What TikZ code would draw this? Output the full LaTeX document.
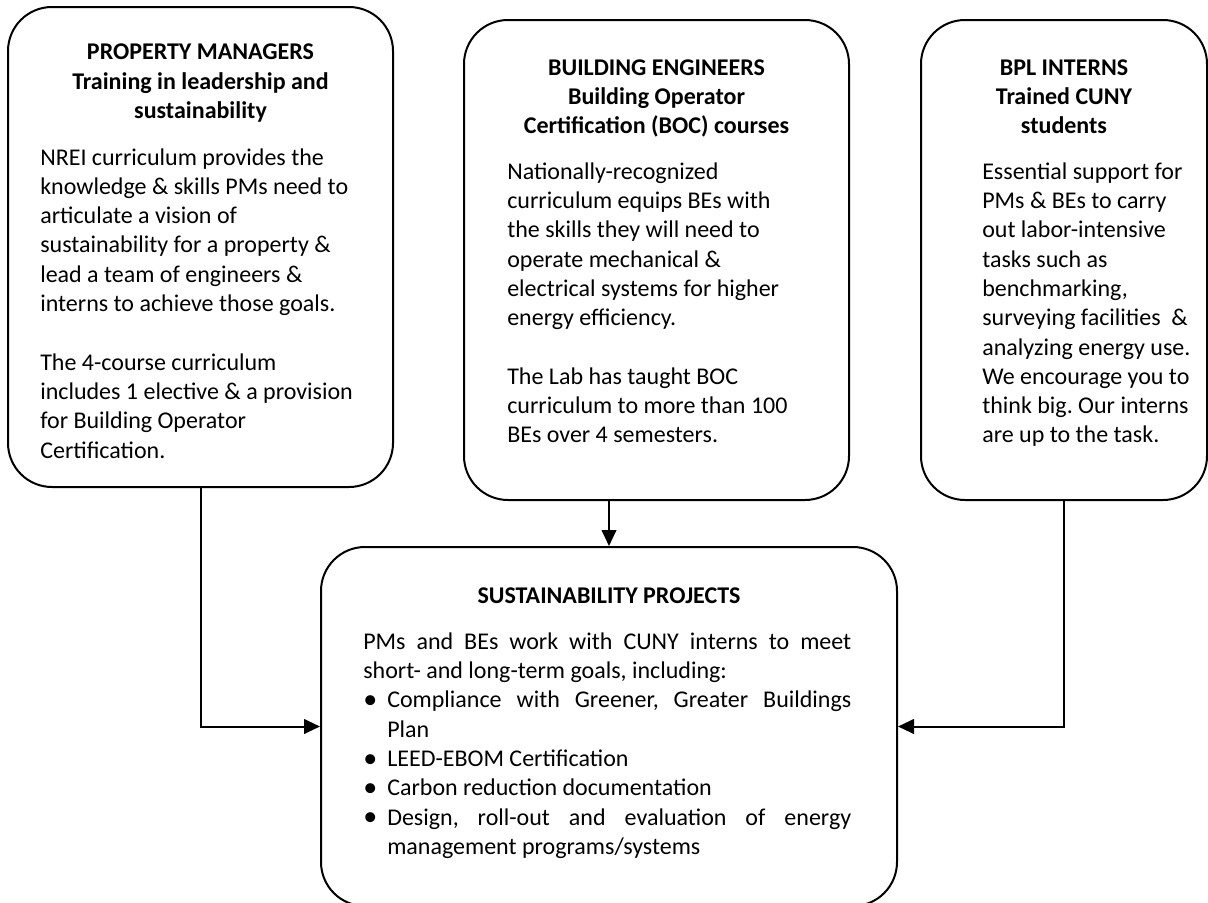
\documentclass[tikz,border=0pt]{standalone}
\usepackage{fontspec}
\setmainfont{Carlito}
\usetikzlibrary{positioning,calc,arrows.meta}
\frenchspacing

% text size used in every box
\newcommand\panelfont{\fontsize{18}{22}\selectfont}
% one bullet line in the project box
\newcommand\goal[1]{\par\noindent\hangindent=18pt\hangafter=1\hbox to 18pt{\raisebox{-0.6pt}{\fontsize{21}{22}\selectfont\textbullet}\hss}#1}

\begin{document}
\begin{tikzpicture}[x=0.75pt,y=-0.75pt,
		panel/.style={draw, line width=1.5pt, rounded corners=33pt, inner sep=0pt},
		heading/.style={font=\panelfont\bfseries, align=flush center, anchor=base, inner sep=0pt},
		blurb/.style={font=\panelfont, align=flush left, anchor=base west, inner sep=0pt},
		feed/.style={line width=1.5pt, -{Triangle[length=12pt,width=11pt]}}]
		\useasboundingbox (0,0) rectangle (1208,903);

		% the three groups on top
		\node[panel, minimum width=288.75pt, minimum height=360pt] (pm) at (200.5,247) {};
		\node[panel, minimum width=288.75pt, minimum height=360pt] (be) at (656.5,260) {};
		\node[panel, minimum width=214.5pt, minimum height=360pt] (bi) at (1064,260) {};
		% the projects they feed
		\node[panel, minimum width=432pt, minimum height=269.25pt] (sp) at (609,726.5) {};

		\node[heading, text width=260pt] (pm-head) at ($(pm.north)+(0,54)$) {PROPERTY MANAGERS\\Training in leadership and\\sustainability};
		\node[blurb, text width=250pt] (pm-text) at ($(pm.north west)+(33,159)$) {NREI curriculum provides the\\knowledge \& skills PMs need to\\articulate a vision of\\sustainability for a property \&\\lead a team of engineers \&\\interns to achieve those goals.\\[22pt]The 4-course curriculum\\includes 1 elective \& a provision\\for Building Operator\\Certification.};

		\node[heading, text width=260pt] (be-head) at ($(be.north)+(0,56)$) {BUILDING ENGINEERS\\Building Operator\\Certification (BOC) courses};
		\node[blurb, text width=240pt] (be-text) at ($(be.north west)+(44,160)$) {Nationally-recognized\\curriculum equips BEs with\\the skills they will need to\\operate mechanical \&\\electrical systems for higher\\energy efficiency.\\[22pt]The Lab has taught BOC\\curriculum to more than 100\\BEs over 4 semesters.};

		\node[heading, text width=190pt] (bi-head) at ($(bi.north)+(0,56)$) {BPL INTERNS\\Trained CUNY\\students};
		\node[blurb, text width=180pt] (bi-text) at ($(bi.north west)+(62,160)$) {Essential support for\\PMs \& BEs to carry\\out labor-intensive\\tasks such as\\benchmarking,\\surveying facilities\ \ \&\\analyzing energy use.\\We encourage you to\\think big. Our interns\\are up to the task.};

		\node[heading, text width=400pt] (sp-head) at ($(sp.north)+(0,57)$) {SUSTAINABILITY PROJECTS};
		\node[blurb, text width=366pt, align=justify] (sp-text) at ($(sp.north west)+(43,103)$) {PMs and BEs work with CUNY interns to meet\linebreak short- and long-term goals, including:
			\goal{Compliance with Greener, Greater Buildings\linebreak Plan}
			\goal{LEED-EBOM Certification}
			\goal{Carbon reduction documentation}
			\goal{Design, roll-out and evaluation of energy\linebreak management programs/systems}\par};

		% connectors
		\draw[feed] (pm.south) |- (sp.west);
		\draw[feed] (be.south -| sp.north) -- (sp.north);
		\draw[feed] (bi.south) |- (sp.east);
	\end{tikzpicture}
\end{document}
